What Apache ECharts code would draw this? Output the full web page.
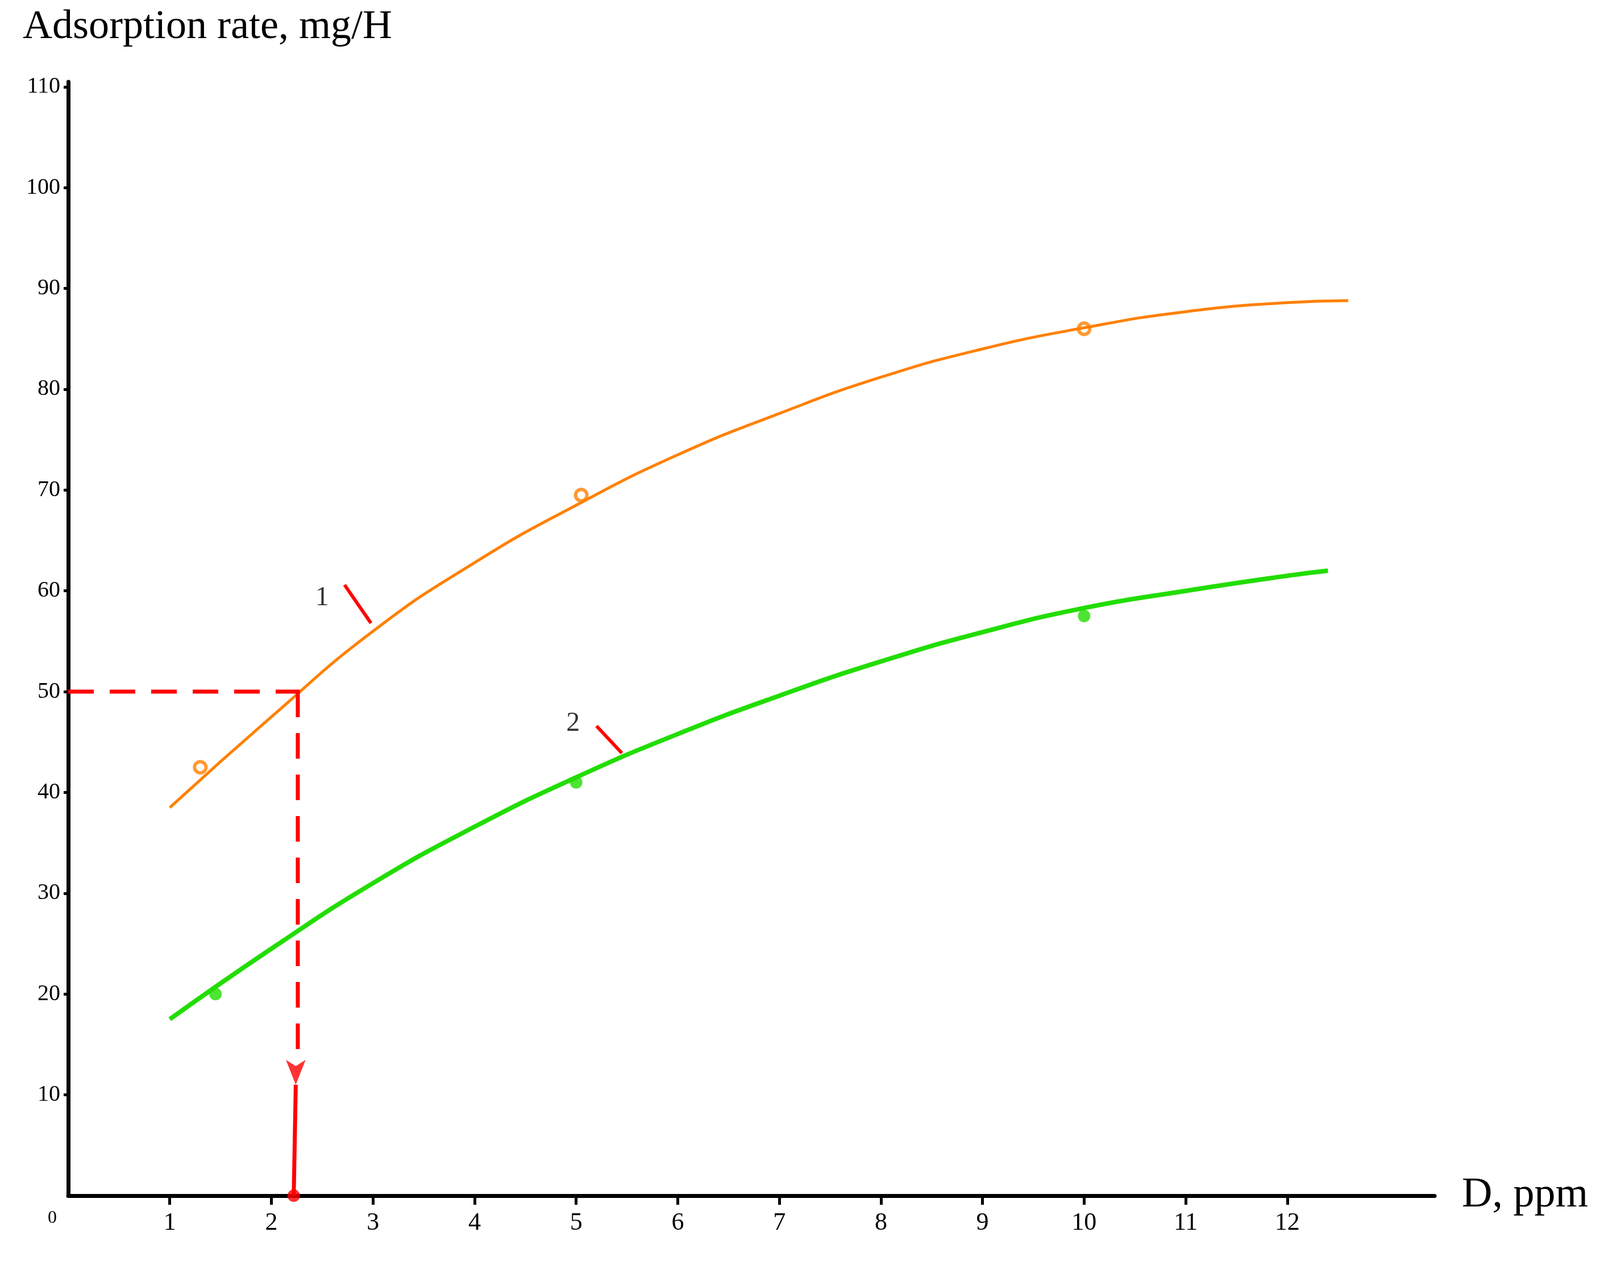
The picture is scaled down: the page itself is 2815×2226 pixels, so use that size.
<!DOCTYPE html>
<html><head><meta charset="utf-8">
<script src="https://cdn.jsdelivr.net/npm/echarts@6/dist/echarts.min.js"></script>
<style>html,body{margin:0;background:#fff}#c{width:2815px;height:2226px}</style>
</head><body><div id="c"></div>
<script>
const xTicks = [1,2,3,4,5,6,7,8,9,10,11,12];
const yTicks = [10,20,30,40,50,60,70,80,90,100,110];
const curve1 = [[1,38.5],[2,47.5],[3,56],[4,62.8],[5,68.5],[6,73.5],[7,77.6],[8,81.2],[9,84],[10,86.1],[11,87.7],[12,88.6],[12.6,88.8]];
const curve2 = [[1,17.5],[2,24.5],[3,31],[4,36.6],[5,41.5],[6,45.8],[7,49.6],[8,53],[9,55.9],[10,58.3],[11,60],[12,61.5],[12.4,62]];
const points1 = [[1.3,42.5],[5.05,69.5],[10,86]];
const points2 = [[1.45,20],[5,41],[10,57.5]];
const guideH = [[0,50],[2.28,50]];
const guideV = [[2.26,50],[2.26,13]];
const guideV2 = [[2.24,11],[2.22,0]];
const guideArrow = [[2.24,11]];
const guideDot = [[2.22,0]];
const lead1 = [[2.72,60.6],[2.98,56.8]];
const lead2 = [[5.2,46.6],[5.45,43.9]];
const labels = [{p:[2.5,59.3],t:'1'},{p:[4.97,46.8],t:'2'}];
const red = '#ff0000';
const font = 'Liberation Serif';
const chart = echarts.init(document.getElementById('c'));
chart.setOption({
  animation:false,
  grid:{left:120,right:291,top:144,bottom:122},
  xAxis:{type:'value',min:0,max:13.45,interval:1,
    axisLine:{lineStyle:{color:'#000',width:7}},
    axisTick:{show:true,length:16,lineStyle:{color:'#000',width:5},customValues:xTicks},
    axisLabel:{color:'#000',fontFamily:font,fontSize:44,margin:26,customValues:xTicks},
    splitLine:{show:false},
    name:'D, ppm',nameLocation:'end',nameGap:48,
    nameTextStyle:{color:'#000',fontFamily:font,fontSize:74,verticalAlign:'middle'}},
  yAxis:{type:'value',min:0,max:110.5,interval:10,
    axisLine:{lineStyle:{color:'#000',width:7}},
    axisTick:{show:true,length:8,lineStyle:{color:'#000',width:5},customValues:yTicks},
    axisLabel:{color:'#000',fontFamily:font,fontSize:40,margin:14,customValues:yTicks},
    splitLine:{show:false},
    name:'Adsorption rate, mg/H',nameLocation:'end',nameGap:60,
    nameTextStyle:{color:'#000',fontFamily:font,fontSize:72,align:'left',padding:[0,0,0,-80]}},
  graphic:[{type:'text',left:84,top:2128,style:{text:'0',font:'32px "Liberation Serif"',fill:'#000'}}],
  series:[
    {type:'line',data:curve1,smooth:0.5,showSymbol:false,lineStyle:{color:'#ff8000',width:5}},
    {type:'line',data:curve2,smooth:0.5,showSymbol:false,lineStyle:{color:'#22dd00',width:8}},
    {type:'scatter',data:points1,symbolSize:20,itemStyle:{color:'#fff',borderColor:'#ff8000',borderWidth:6}},
    {type:'scatter',data:points2,symbolSize:22,itemStyle:{color:'#22dd00'}},
    {type:'line',data:guideH,showSymbol:false,lineStyle:{color:red,width:7,type:[45,28]}},
    {type:'line',data:guideV,showSymbol:false,lineStyle:{color:red,width:7,type:[45,28]}},
    {type:'line',data:guideV2,showSymbol:false,lineStyle:{color:red,width:7}},
    {type:'scatter',data:guideArrow,symbol:'arrow',symbolRotate:180,symbolSize:[26,44],itemStyle:{color:red}},
    {type:'scatter',data:guideDot,symbolSize:22,itemStyle:{color:red},z:5},
    {type:'line',data:lead1,showSymbol:false,lineStyle:{color:red,width:6}},
    {type:'line',data:lead2,showSymbol:false,lineStyle:{color:red,width:6}},
    {type:'scatter',data:labels.map(l=>({value:l.p,label:{show:true,formatter:l.t}})),symbolSize:0,
      label:{show:true,position:'inside',color:'#000',fontFamily:font,fontSize:48}}
  ]
});
</script></body></html>
